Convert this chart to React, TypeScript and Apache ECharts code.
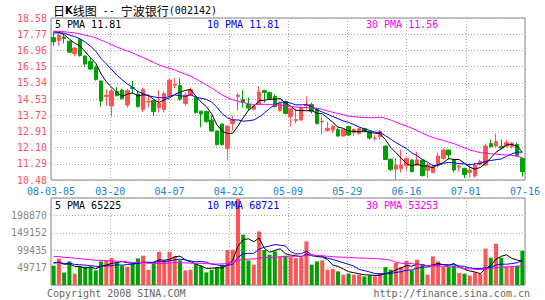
import React, { useEffect, useRef } from "react";
import * as echarts from "echarts";

// ---- data ----
const xLabels = ["08-03-05", "03-20", "04-07", "04-22", "05-09", "05-29", "06-16", "07-01", "07-16"];

const opens = [
  17.6, 17.45, 17.62, 17.42, 16.8, 17.5, 16.68, 16.4, 16.12, 15.43,
  14.65, 14.18, 14.9, 14.98, 14.23, 15.1, 14.78, 14.0, 14.38, 14.45,
  14.1, 14.0, 14.7, 15.22, 15.2, 14.31, 14.73, 14.6, 13.92, 13.9,
  13.48, 12.93, 13.28, 12.06, 13.31, 14.65, 14.5, 14.25, 14.02, 14.28,
  14.95, 14.85, 14.65, 13.95, 14.4, 13.65, 13.45, 13.48, 14.2, 14.25,
  14.05, 13.38, 12.95, 12.98, 13.0, 12.68, 13.15, 12.85, 12.8, 13.05,
  12.9, 12.55, 12.65, 12.18, 11.52, 11.02, 11.05, 11.2, 11.48, 11.23,
  11.48, 10.95, 10.85, 11.23, 11.56, 11.98, 11.48, 11.13, 11.06, 10.85,
  10.68, 11.25, 11.23, 12.3, 12.18, 12.15, 12.18, 12.15, 12.25, 11.56,
];
const closes = [
  17.4, 17.7, 17.55, 16.87, 17.08, 16.7, 16.28, 16.03, 15.5, 14.43,
  14.72, 14.93, 14.7, 14.55, 14.95, 15.05, 14.15, 15.0, 14.42, 13.9,
  14.32, 14.8, 15.48, 15.27, 14.52, 14.73, 15.0, 13.85, 13.78, 13.4,
  12.93, 12.25, 12.25, 13.18, 13.48, 14.72, 14.36, 14.08, 14.18, 14.88,
  14.85, 14.56, 14.15, 14.31, 13.81, 14.05, 13.5, 14.1, 14.25, 13.9,
  13.3, 13.42, 13.06, 13.15, 12.68, 13.01, 12.73, 13.0, 13.05, 12.9,
  12.58, 12.58, 12.9, 11.51, 11.0, 11.23, 11.22, 11.55, 10.9, 11.48,
  10.7, 11.23, 11.15, 11.68, 11.98, 11.73, 10.98, 11.17, 10.75, 10.98,
  11.22, 11.4, 12.18, 12.15, 12.4, 12.08, 12.35, 12.32, 11.7, 10.9,
];
const lows = [
  17.2, 17.2, 17.31, 16.85, 16.68, 16.65, 16.15, 15.98, 15.45, 14.15,
  14.2, 13.65, 14.65, 14.5, 14.1, 14.8, 14.1, 13.88, 14.1, 13.7,
  13.85, 13.85, 14.68, 15.06, 14.45, 14.2, 14.7, 13.8, 13.12, 13.35,
  12.9, 12.2, 12.2, 11.45, 12.95, 13.95, 14.1, 13.98, 13.98, 14.22,
  14.35, 14.5, 14.1, 13.9, 13.78, 13.15, 13.3, 13.45, 14.0, 13.8,
  13.25, 12.75, 12.9, 12.85, 12.65, 12.65, 12.7, 12.7, 12.75, 12.85,
  12.5, 12.45, 12.5, 11.48, 10.93, 10.5, 10.85, 10.95, 10.85, 11.2,
  10.65, 10.6, 10.82, 11.1, 11.5, 11.5, 10.85, 10.9, 10.58, 10.6,
  10.6, 11.2, 11.2, 12.1, 12.1, 12.0, 12.1, 12.05, 11.65, 10.65,
];
const highs = [
  17.88, 17.85, 17.76, 17.45, 17.12, 17.55, 16.7, 16.6, 16.2, 15.45,
  15.0, 15.05, 15.12, 15.05, 15.05, 15.43, 14.95, 15.1, 14.75, 14.5,
  14.98, 14.9, 15.5, 15.56, 15.56, 14.85, 15.1, 14.65, 13.95, 13.92,
  13.7, 12.95, 13.3, 13.2, 13.7, 14.85, 14.98, 14.6, 14.25, 15.18,
  15.0, 14.9, 14.75, 14.4, 14.45, 14.1, 14.05, 14.15, 14.65, 14.35,
  14.1, 13.65, 13.4, 13.25, 13.1, 13.05, 13.2, 13.05, 13.1, 13.1,
  12.95, 12.72, 12.98, 12.2, 11.55, 11.58, 12.0, 11.6, 11.52, 11.9,
  11.52, 11.33, 11.2, 11.85, 12.05, 12.0, 11.55, 11.25, 11.1, 11.3,
  11.35, 11.5, 12.3, 12.5, 12.8, 12.5, 12.5, 12.38, 12.35, 11.6,
];
const volumes = [
  55100, 75100, 36000, 67400, 32300, 53200, 52300, 52300, 41700, 67400,
  70300, 77100, 64600, 55100, 52300, 60900, 76000, 83700, 43700, 60900,
  95100, 70300, 95100, 81700, 70300, 41700, 43700, 60900, 55100, 36000,
  43700, 50300, 58000, 99900, 100800, 245700, 143700, 70300, 58000, 153100,
  99900, 86600, 96000, 81800, 83700, 79900, 77000, 79000, 124600, 58100,
  67500, 70400, 43800, 45600, 39000, 29500, 32400, 29500, 29500, 24700,
  27500, 24700, 34200, 51300, 43800, 62800, 51300, 69400, 41900, 72300,
  58100, 29500, 81800, 67500, 51300, 51300, 55200, 34200, 32400, 27500,
  36100, 32400, 103700, 78000, 118000, 78000, 53300, 53300, 55200, 98000,
];
// sessions before 08-03-05, estimated from where the averages start
const priorCloses = [
  18.2, 18.0, 17.7, 17.9, 18.3, 18.1, 17.8, 17.6, 17.9, 18.2,
  18.4, 18.1, 17.8, 17.7, 17.9, 18.0, 18.2, 17.9, 17.8, 17.9,
  17.6, 17.7, 17.9, 17.8, 17.8, 17.9, 18.1, 18.0, 18.1,
];
const priorVolumes = [
  95000, 88000, 102000, 84000, 90000, 97000, 86000, 93000, 80000, 99000,
  92000, 85000, 96000, 89000, 94000, 87000, 91000, 98000, 83000, 93000,
  60000, 66000, 58000, 68000, 62500, 63000, 67000, 61000, 68400,
];

const priceLegend = ["5 PMA 11.81", "10 PMA 11.81", "30 PMA 11.56"];
const volumeLegend = ["5 PMA 65225", "10 PMA 68721", "30 PMA 53253"];

const priceMin = 10.48;
const priceMax = 18.58;
const priceStep = 0.81;
const volStep = 49717.4;
const volMax = volStep * 5;

const RED = "#ff5555";
const GREEN = "#00a000";
const MONO = '"DejaVu Sans Mono", monospace';

function movingAverage(values: number[], prior: number[], n: number): number[] {
  const all = prior.concat(values);
  return values.map((_, i) => {
    const end = prior.length + i;
    let s = 0;
    for (let k = end - n + 1; k <= end; k++) s += all[k];
    return +(s / n).toFixed(4);
  });
}

export default function App() {
  const ref = useRef<HTMLDivElement>(null);

  useEffect(() => {
    if (!ref.current) return;
    const chart = echarts.init(ref.current, undefined, { renderer: "svg" });
    const cats = closes.map((_, i) => String(i));
    const candles = opens.map((o, i) => [o, closes[i], lows[i], highs[i]]);
    const volData = volumes.map((v, i) => ({
      value: v,
      itemStyle: { color: closes[i] >= opens[i] ? RED : GREEN },
    }));
    const dotted = { color: "#aaaaaa", type: [1, 2] as any, width: 1 };

    const legendText = (t: string, x: number, y: number, fill: string) => ({
      type: "text",
      x,
      y,
      style: { text: t, fill, font: `10px ${MONO}`, textVerticalAlign: "middle", verticalAlign: "middle" },
      z: 100,
    });

    chart.setOption({
      animation: false,
      backgroundColor: "#ffffff",
      grid: [
        { left: 51, top: 18, width: 474, height: 162, show: true, borderColor: "#888888", borderWidth: 1, backgroundColor: "transparent" },
        { left: 51, top: 198, width: 474, height: 87, show: true, borderColor: "#888888", borderWidth: 1, backgroundColor: "transparent" },
      ],
      xAxis: [
        { type: "category", gridIndex: 0, data: cats, boundaryGap: true, show: false },
        {
          type: "value", gridIndex: 0, min: 0, max: 8, interval: 1, position: "bottom",
          axisLine: { show: false }, axisTick: { show: false },
          axisLabel: {
            show: true, showMinLabel: true, showMaxLabel: true, margin: 6,
            color: "#1e82d2", fontFamily: MONO, fontSize: 10,
            formatter: (v: number) => xLabels[Math.round(v)] ?? "",
          },
          splitLine: { show: true, lineStyle: dotted },
        },
        { type: "category", gridIndex: 1, data: cats, boundaryGap: true, show: false },
        {
          type: "value", gridIndex: 1, min: 0, max: 8, interval: 1,
          axisLine: { show: false }, axisTick: { show: false }, axisLabel: { show: false },
          splitLine: { show: true, lineStyle: dotted },
        },
      ],
      yAxis: [
        {
          type: "value", gridIndex: 0, min: priceMin, max: priceMax, interval: priceStep,
          axisLine: { show: false }, axisTick: { show: false },
          axisLabel: {
            color: RED, fontFamily: MONO, fontSize: 10, margin: 4,
            showMinLabel: true, showMaxLabel: true,
            formatter: (v: number) => v.toFixed(2),
          },
          splitLine: { show: true, lineStyle: dotted },
        },
        {
          type: "value", gridIndex: 1, min: 0, max: volMax, interval: volStep,
          axisLine: { show: false }, axisTick: { show: false },
          axisLabel: {
            color: "#888888", fontFamily: MONO, fontSize: 10, margin: 4,
            formatter: (v: number) => (v <= 0 || v >= volMax - 1 ? "" : String(Math.round(v))),
          },
          splitLine: { show: true, lineStyle: dotted },
        },
      ],
      series: [
        {
          type: "candlestick", xAxisIndex: 0, yAxisIndex: 0, data: candles, barWidth: 4,
          itemStyle: { color: RED, color0: GREEN, borderColor: RED, borderColor0: GREEN, borderWidth: 1 },
        },
        { type: "line", xAxisIndex: 0, yAxisIndex: 0, data: movingAverage(closes, priorCloses, 5), symbol: "none", lineStyle: { color: "#000000", width: 1 } },
        { type: "line", xAxisIndex: 0, yAxisIndex: 0, data: movingAverage(closes, priorCloses, 10), symbol: "none", lineStyle: { color: "#0000ff", width: 1 } },
        { type: "line", xAxisIndex: 0, yAxisIndex: 0, data: movingAverage(closes, priorCloses, 30), symbol: "none", lineStyle: { color: "#ff00ff", width: 1 } },
        { type: "bar", xAxisIndex: 2, yAxisIndex: 1, data: volData, barWidth: 4 },
        { type: "line", xAxisIndex: 2, yAxisIndex: 1, data: movingAverage(volumes, priorVolumes, 5), symbol: "none", lineStyle: { color: "#000000", width: 1 } },
        { type: "line", xAxisIndex: 2, yAxisIndex: 1, data: movingAverage(volumes, priorVolumes, 10), symbol: "none", lineStyle: { color: "#0000ff", width: 1 } },
        { type: "line", xAxisIndex: 2, yAxisIndex: 1, data: movingAverage(volumes, priorVolumes, 30), symbol: "none", lineStyle: { color: "#ff00ff", width: 1 } },
      ],
      graphic: [
        {
          type: "text", x: 53, y: 10, z: 100,
          style: {
            text: "{c|日}{k|K}{c|线图}{m| -- }{c|宁波银行}{m|(002142)}",
            textVerticalAlign: "middle", verticalAlign: "middle",
            rich: {
              c: { font: '12px "Noto Sans CJK SC"', fill: "#000000" },
              k: { font: 'bold 10px "DejaVu Sans"', fill: "#000000" },
              m: { font: `10px ${MONO}`, fill: "#000000" },
            },
          },
        },
        legendText(priceLegend[0], 55, 24.5, "#000000"),
        legendText(priceLegend[1], 207, 24.5, "#0000ff"),
        legendText(priceLegend[2], 366, 24.5, "#ff00ff"),
        legendText(volumeLegend[0], 55, 205.5, "#000000"),
        legendText(volumeLegend[1], 207, 205.5, "#0000ff"),
        legendText(volumeLegend[2], 366, 205.5, "#ff00ff"),
        {
          type: "text", x: 47, y: 293, z: 100,
          style: { text: "Copyright 2008 SINA.COM", fill: "#666666", font: `10px ${MONO}`, textVerticalAlign: "middle", verticalAlign: "middle" },
        },
        {
          type: "text", x: 530, y: 293, z: 100,
          style: { text: "http://finance.sina.com.cn", fill: "#666666", font: `10px ${MONO}`, textAlign: "right", align: "right", textVerticalAlign: "middle", verticalAlign: "middle" },
        },
      ],
    });
    return () => chart.dispose();
  }, []);

  return (
    <div
      ref={ref}
      style={{ position: "fixed", left: 0, top: 0, width: 545, height: 300, background: "#ffffff" }}
    />
  );
}
